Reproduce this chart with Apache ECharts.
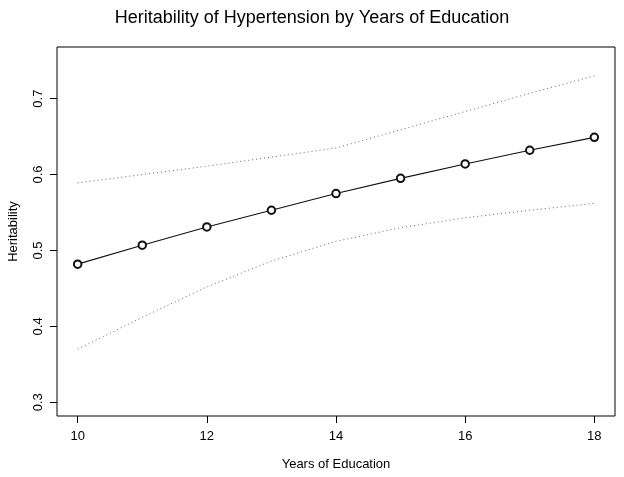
<!DOCTYPE html>
<html><head><meta charset="utf-8">
<script src="https://cdn.jsdelivr.net/npm/echarts@6/dist/echarts.min.js"></script>
<style>html,body{margin:0;padding:0;background:#fff}#c{width:624px;height:477px}</style>
</head><body><div id="c"></div>
<script>
var years = [10, 11, 12, 13, 14, 15, 16, 17, 18];
var estimate = [0.482, 0.507, 0.531, 0.553, 0.575, 0.595, 0.614, 0.632, 0.649];
var upper = [0.589, 0.600, 0.611, 0.623, 0.635, 0.659, 0.683, 0.707, 0.730];
var lower = [0.370, 0.412, 0.452, 0.486, 0.512, 0.530, 0.543, 0.553, 0.562];
var xTicks = [10, 12, 14, 16, 18];
var yTicks = [0.3, 0.4, 0.5, 0.6, 0.7];

function pairs(a){ return years.map(function(x,i){ return [x, a[i]]; }); }
var font = 'Liberation Sans, Arial, Helvetica, sans-serif';
var chart = echarts.init(document.getElementById('c'));
chart.setOption({
  animation: false,
  backgroundColor: '#fff',
  title: { text: 'Heritability of Hypertension by Years of Education', left: 'center', top: 4,
    textStyle: { fontFamily: font, fontSize: 18, fontWeight: 'normal', color: '#000' } },
  grid: { left: 57, right: 9, top: 47, bottom: 61, show: true, borderColor: '#000', borderWidth: 1,
    backgroundColor: 'transparent', containLabel: false, outerBoundsMode: 'none' },
  xAxis: { type: 'value', min: 9.68, max: 18.32,
    name: 'Years of Education', nameLocation: 'middle', nameGap: 42,
    nameTextStyle: { fontFamily: font, fontSize: 13, color: '#000' },
    axisLine: { show: false },
    axisTick: { show: true, length: 7, customValues: xTicks, lineStyle: { color: '#000' } },
    axisLabel: { customValues: xTicks, margin: 14, fontFamily: font, fontSize: 13, color: '#000' },
    splitLine: { show: false } },
  yAxis: { type: 'value', min: 0.282, max: 0.768,
    name: 'Heritability', nameLocation: 'middle', nameGap: 37, nameRotate: 90,
    nameTextStyle: { fontFamily: font, fontSize: 13, color: '#000' },
    axisLine: { show: false },
    axisTick: { show: true, length: 7, customValues: yTicks, lineStyle: { color: '#000' } },
    axisLabel: { customValues: yTicks, rotate: 90, margin: 12, fontFamily: font, fontSize: 13, color: '#000',
      formatter: function(v){ return v.toFixed(1); } },
    splitLine: { show: false } },
  series: [
    { type: 'line', data: pairs(estimate), symbol: 'emptyCircle', symbolSize: 7.5,
      lineStyle: { color: '#111', width: 1.1 },
      itemStyle: { color: '#111', borderColor: '#111', borderWidth: 1 } },
    { type: 'line', data: pairs(upper), symbol: 'none',
      lineStyle: { color: '#666', width: 1, type: [1, 3] } },
    { type: 'line', data: pairs(lower), symbol: 'none',
      lineStyle: { color: '#666', width: 1, type: [1, 3] } }
  ]
});
</script></body></html>
